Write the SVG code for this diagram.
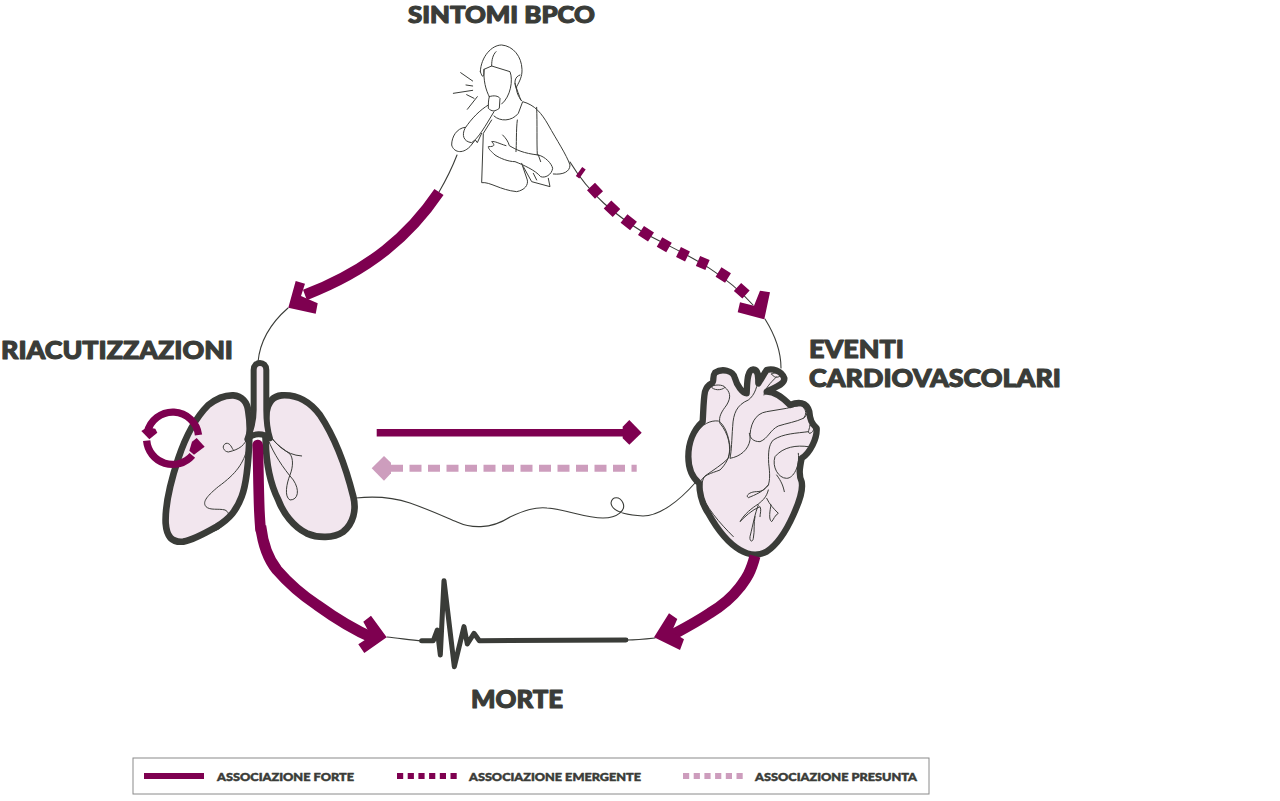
<svg xmlns="http://www.w3.org/2000/svg" width="1280" height="801" viewBox="0 0 1280 801">
<style>
.t{font-family:"Lato","Liberation Sans",sans-serif;font-weight:900;fill:#3a3c38;font-size:24.5px;stroke:#3a3c38;stroke-width:1.1px;stroke-linejoin:round}
.l{font-size:11.5px;stroke-width:.5px}
.thin{fill:none;stroke:#3a3c38;stroke-width:1.1;stroke-linecap:round;stroke-linejoin:round}
.zt{fill:none;stroke:#3a3c38;stroke-width:3;stroke-linecap:round;stroke-linejoin:round}
.out{fill:#f2e6ee;stroke:#3a3c38;stroke-width:20;stroke-linejoin:round}
.m{fill:none;stroke:#7e0050;stroke-width:11}
.mf{fill:#7e0050}
.pf{fill:#cd9dbd}
</style>
<rect width="1280" height="801" fill="#fff"/>
<g id="label-sintomi"><text class="t" style="font-size:22.5px" x="408" y="23" textLength="187" lengthAdjust="spacingAndGlyphs">SINTOMI BPCO</text></g>
<g id="node-person" transform="translate(420 30) scale(.3333)">
<path class="zt" d="M181,125C183,80 215,45 245,45C280,48 305,80 306,118C307,140 298,155 290,170C288,185 295,200 305,212"/>
<path class="zt" d="M228,65C218,75 215,90 215,108L270,125C280,150 272,200 245,222"/>
<path class="zt" d="M181,125C186,140 192,150 192,118L215,108M192,118C190,150 197,180 208,200"/>
<path class="zt" d="M290,180C280,155 285,140 300,135M285,160C290,180 298,195 302,210"/>
<path class="zt" d="M122,128L158,153M138,165L158,168M100,190L158,181M140,194L162,205M142,238L172,200"/>
<path class="zt" d="M208,200C222,195 235,198 240,205L238,235C225,245 215,245 205,235C205,222 205,210 208,200Z"/>
<path class="zt" d="M205,225C180,240 155,265 135,295C125,315 130,335 155,338C175,325 195,290 222,245"/>
<path class="zt" d="M135,292C110,295 95,320 95,345C100,365 125,375 150,350L166,330L172,338L185,310"/>
<path class="zt" d="M222,258C240,275 275,275 295,250L308,215C345,225 365,250 385,285C410,330 440,375 450,405C450,425 430,435 400,432"/>
<path class="zt" d="M215,270L190,310L185,458C210,455 240,480 290,485C315,480 325,465 322,450L305,400"/>
<path class="zt" d="M292,270C288,300 290,345 288,365M350,232C352,280 350,340 352,375"/>
<path class="zt" d="M248,315C258,325 265,335 268,347C290,360 310,370 355,375C375,380 395,400 398,415C395,435 375,445 362,440C345,420 310,405 285,395C265,395 240,385 225,375C215,365 205,358 205,350C225,350 225,345 215,335C225,333 235,340 258,347"/>
<path class="zt" d="M355,375L362,395M310,410L335,455L390,470L385,445M340,430L350,450"/>
</g>
<g id="node-lungs" transform="translate(130 350) scale(.3333)">
<path class="out" d="M310,136C335,138 352,155 355,185C360,215 360,240 358,262C356,330 350,400 335,440C320,480 300,505 260,530C225,550 190,570 160,575C125,578 110,560 107,520C105,470 120,400 145,325C165,265 195,205 235,165C260,145 285,135 310,136Z"/>
<path class="out" d="M455,136C430,138 415,155 410,185C406,220 405,245 407,270C408,330 420,400 445,450C460,490 490,530 530,550C565,565 610,565 640,545C670,520 680,480 670,440C650,360 620,270 570,195C540,155 500,133 455,136Z"/>
<path class="out" style="stroke-width:18" d="M371,60C371,32 409,32 409,60L409,180C409,215 412,240 420,265C400,248 370,248 352,268C362,240 371,215 371,180Z"/>
<path class="zt" d="M352,262C345,285 330,298 295,306C282,305 272,288 288,280C302,278 305,295 310,300"/>
<path class="zt" d="M352,295C340,340 320,370 265,410C235,435 215,455 228,470C240,482 265,475 285,480C305,490 295,510 270,535C255,545 235,548 225,548"/>
<path class="zt" d="M415,248C435,280 465,315 515,318M415,270C430,310 460,355 490,390C510,420 505,450 480,450C462,440 470,400 480,375C490,350 490,325 480,312C465,300 440,285 425,265"/>
<path class="m" style="stroke-width:32;stroke-linecap:round" d="M383,285C385,320 385,400 388,480C389,500 390,520 392,540"/>
<path class="m" style="stroke-width:22" d="M50,272A78,78 0 0 0 187,316M52,247A78,78 0 0 1 205.5,255"/>
<polygon class="mf" points="34,243 52,232 76,236 82,248 58,268"/>
<polygon class="mf" points="200,264 224,290 192,314 178,302 186,275"/>
</g>
<g id="node-heart" transform="translate(670 350) scale(.3333)">
<path class="out" style="stroke-width:19" d="M105,125C100,150 100,190 98,215C70,240 55,280 55,320C55,360 70,385 88,400C88,430 95,460 115,490C140,535 175,580 210,600C235,615 265,618 290,605C320,585 350,540 370,495C390,450 400,420 395,395C385,375 390,350 395,325C420,310 442,265 440,235C425,220 420,210 418,185C410,155 385,155 360,165C345,150 320,125 290,125C305,115 345,105 343,85C335,60 305,55 290,60C280,75 272,90 265,100C265,80 265,58 250,58C230,60 232,100 230,130C218,130 200,105 195,85C190,60 155,55 135,68C125,80 135,95 125,100C115,105 108,115 105,125Z"/>
<path class="zt" d="M123,110C130,103 160,103 165,112C155,122 130,122 123,110ZM165,112C180,125 185,140 170,165C155,185 145,200 150,220C175,250 185,290 175,325C155,345 130,360 105,378C92,395 100,410 90,420C105,470 150,520 190,560"/>
<path class="zt" d="M90,400C95,375 125,370 150,360C165,345 180,325 180,290C175,255 165,225 145,213C120,210 95,225 82,245"/>
<path class="zt" d="M250,65C255,60 270,65 268,72C260,78 250,72 250,65ZM268,72C262,110 255,135 235,150C200,165 190,190 188,230C185,270 185,300 180,325C210,320 235,300 240,270C238,225 255,190 290,185L350,175C375,168 400,165 410,165C415,185 410,200 400,205C380,215 350,220 325,228C300,240 295,265 270,275C250,275 240,265 238,250"/>
<path class="zt" d="M305,72C315,65 328,70 330,78C322,85 310,82 305,72ZM320,80C300,100 285,115 282,135"/>
<path class="zt" d="M398,170C410,180 410,195 400,205M420,225C435,225 435,245 420,250C410,250 420,235 420,225M415,245C380,250 340,250 310,270C295,285 295,310 296,340C300,370 300,390 295,405C280,425 255,435 235,443C225,437 240,425 260,425C280,425 285,415 295,405M415,290C380,285 340,290 315,320C305,350 325,385 350,385C370,385 390,350 385,310"/>
<path class="zt" d="M320,375C335,395 340,410 343,425M295,420C290,440 280,450 265,462C245,475 225,490 210,515C225,500 245,480 270,470C275,480 270,490 270,500M265,465C255,490 250,520 240,560C238,575 248,578 250,565C255,540 250,520 255,500M290,445C300,465 310,475 325,490C315,495 310,510 305,515C295,510 300,480 303,465"/>
</g>
<g id="node-ecg" transform="translate(350 570) scale(.3333)">
<path fill="none" stroke="#3a3c38" stroke-width="15" stroke-linecap="round" stroke-linejoin="round" d="M215,212L250,212L262,180L271,255L282,32L313,290L342,170L352,222L372,190L388,212L828,210"/>
</g>
<g id="connectors">
<path class="thin" d="M457,155C452,168 446,180 439,192"/>
<path class="thin" d="M288,308C272,322 260,340 258,362"/>
<path class="thin" d="M570,162C590,195 615,215 646,234C680,252 720,268 753,305"/>
<path class="thin" d="M765,319C775,335 781,350 781,368"/>
<path class="thin" d="M356,498C375,496 395,498 410,503C430,510 445,517 457,522C470,528 490,530 510,517C525,510 535,507 547,508C565,509 585,518 603,518C618,518 626,510 623,503C620,496 612,496 611,503C612,512 625,515 643,516C660,516 680,500 695,483"/>
<path class="thin" d="M387,637C398,638 410,640 422,641"/>
<path class="thin" d="M627,640C636,640 646,639 655,638"/>
<path class="m" d="M439,192C410,235 370,270 305,295"/>
<polygon class="mf" points="295.7,281 305,283.7 301,296 317.7,303.3 315.7,313.7 288.3,307.7"/>
<path class="m" d="M579,171.5L582.5,174M591,186.5L599,195M607.5,204.5L616.5,213M624,218.5L633.5,226M641,230.5L651,237M659.5,242L669,247.5M678.5,252L687.5,256.5M698,261L707.5,265M718.5,272L728,278M737.5,287L746,294.5"/>
<polygon class="mf" points="760,290.7 770,292.3 764.3,319.3 737.7,312.3 740,302.3 754,305.7"/>
<path class="m" style="stroke-width:7.5" d="M376.7,432.7H630"/>
<polygon class="mf" points="629.3,420 641.7,432.7 629.3,444.7 622.7,438.3 622.7,426.7"/>
<path fill="none" stroke="#cd9dbd" stroke-width="7" stroke-dasharray="12 6.5" d="M391,468.3H636.7"/>
<polygon class="pf" points="371.7,468.3 384,456 391,462.7 391,473.3 384,480.7"/>
<path class="m" d="M260.7,526C263,546 269,560 277,570C290,585 305,597 317,605C335,618 350,628 373,638"/>
<polygon class="mf" points="371,615.7 386.7,637.3 364.3,653 358.3,644.3 371,636 363.3,621.7"/>
<path class="m" d="M755,556C750,575 745,580 740,587C730,600 720,607 710,613C695,623 685,628 670,636"/>
<polygon class="mf" points="669,613.3 677.3,619 671.7,631.7 684,639.3 680,650 654,637.3"/>
</g>
<g id="label-riacutizzazioni"><text class="t" x="1" y="359" textLength="232" lengthAdjust="spacingAndGlyphs">RIACUTIZZAZIONI</text></g>
<g id="label-eventi"><text class="t" x="809" y="358" textLength="95" lengthAdjust="spacingAndGlyphs">EVENTI</text><text class="t" x="809" y="387" textLength="252" lengthAdjust="spacingAndGlyphs">CARDIOVASCOLARI</text></g>
<g id="label-morte"><text class="t" x="471" y="708" textLength="92" lengthAdjust="spacingAndGlyphs">MORTE</text></g>
<g id="legend">
<rect x="133" y="758" width="796" height="36" fill="#fff" stroke="#8a8a8a" stroke-width="1"/>
<path stroke="#7e0050" stroke-width="6" d="M144,776H204"/>
<path stroke="#7e0050" stroke-width="6" stroke-dasharray="6.2 4.5" d="M397,776H457"/>
<path stroke="#cd9dbd" stroke-width="6" stroke-dasharray="6.2 4.5" d="M683,776H743"/>
<text class="t l" x="217" y="780.5" textLength="137" lengthAdjust="spacingAndGlyphs">ASSOCIAZIONE FORTE</text>
<text class="t l" x="469" y="780.5" textLength="172" lengthAdjust="spacingAndGlyphs">ASSOCIAZIONE EMERGENTE</text>
<text class="t l" x="755" y="780.5" textLength="162" lengthAdjust="spacingAndGlyphs">ASSOCIAZIONE PRESUNTA</text>
</g>
</svg>
